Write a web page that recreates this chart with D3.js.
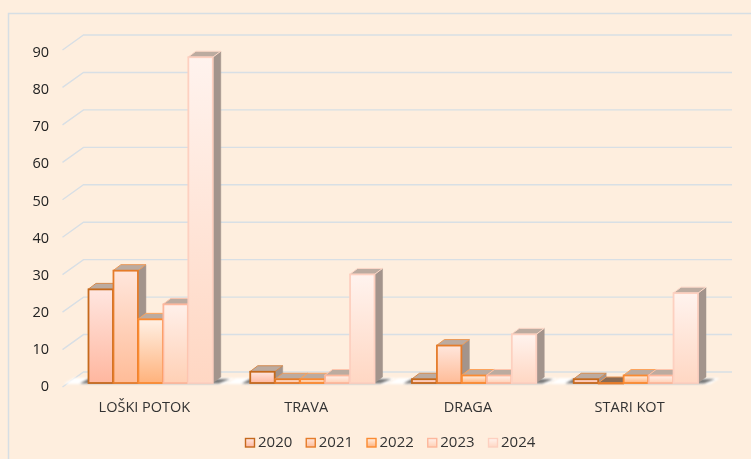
<!DOCTYPE html>
<html><head><meta charset="utf-8">
<script src="https://cdn.jsdelivr.net/npm/d3@7"></script>
<style>html,body{margin:0;padding:0;background:#feeede;overflow:hidden}
text{font-family:"Open Sans",sans-serif;fill:#333}</style></head>
<body><svg id="c" width="751" height="459"></svg>
<script>
const categories = ["LOŠKI POTOK","TRAVA","DRAGA","STARI KOT"];
const seriesNames = ["2020","2021","2022","2023","2024"];
const v2020 = [25,3,1,1];
const v2021 = [30,1,10,0];
const v2022 = [17,1,2,2];
const v2023 = [21,2,2,2];
const v2024 = [87,29,13,24];
const seriesValues = [v2020,v2021,v2022,v2023,v2024];
const strokeColors = ["#c5691f","#e57c2b","#fb8a30","#fdb79c","#fdd0c0"];
const fillTop = ["#ffe6e0","#ffe6dc","#fff0e4","#fff0ea","#fff3ee"];
const fillBottom = ["#ffb79f","#ffbc98","#ffb27c","#ffd0b5","#ffd7c3"];
const yTicks = [0,10,20,30,40,50,60,70,80,90];

const svg = d3.select("#c");
const defs = svg.append("defs");
seriesNames.forEach((s,i)=>{
  const g = defs.append("linearGradient").attr("id","g"+i).attr("x1",0).attr("x2",0).attr("y1",0).attr("y2",1);
  g.append("stop").attr("offset","0%").attr("stop-color",fillTop[i]);
  g.append("stop").attr("offset","100%").attr("stop-color",fillBottom[i]);
});
defs.append("filter").attr("id","soft").append("feGaussianBlur").attr("stdDeviation",0.4);
defs.append("filter").attr("id","soft2").append("feGaussianBlur").attr("stdDeviation",0.25);
const bf=defs.append("filter").attr("id","blur").attr("x","-10%").attr("y","-100%").attr("width","120%").attr("height","300%");
bf.append("feGaussianBlur").attr("stdDeviation",1.2);

// outer frame
svg.append("path").attr("d","M8.5,459V13.5H751").attr("fill","none").attr("stroke","#d6dee4").attr("stroke-width",1.5);

const root = svg.append("g").attr("filter","url(#soft)");
const yBack = d3.scaleLinear().domain([0,90]).range([372,35]);
const yBar  = d3.scaleLinear().domain([0,90]).range([383,46]);
const yFront= d3.scaleLinear().domain([0,90]).range([387,50]);
const yLabel= d3.scaleLinear().domain([0,90]).range([386,52]);
const xGroup = d3.scaleBand().domain(categories).range([88,698]).paddingInner(37/162).paddingOuter(0);
const xBar = d3.scaleBand().domain(seriesNames).range([0,xGroup.bandwidth()]);

// grid
const wallL=[62.5,83.5], wallR=732;
root.append("g").selectAll("path").data(yTicks).join("path")
  .attr("d",t=>`M${wallL[0]},${yFront(t)}L${wallL[1]},${yBack(t)}H${wallR}`)
  .attr("fill","none").attr("stroke","#d8dfe5").attr("stroke-width",1.4);

// floor shadows
root.append("g").selectAll("path").data(categories).join("path")
  .attr("d",c=>{const x=xGroup(c),w=xGroup.bandwidth();
    return `M${x-24},${yBar(0)+1}L${x-14},${yBar(0)-5}H${x+w+22}L${x+w+12},${yBar(0)+1}Z`;})
  .attr("fill","#fff").attr("filter","url(#blur)");
root.append("g").selectAll("path").data(categories).join("path")
  .attr("d",c=>{const x=xGroup(c),w=xGroup.bandwidth();
    return `M${x-8},${yBar(0)+0.5}L${x},${yBar(0)-4}H${x+w+17}L${x+w+6},${yBar(0)+0.5}Z`;})
  .attr("fill","#777").attr("filter","url(#blur)");

// bars
const dx=8, dy=6;
categories.forEach((c,ci)=>{
  seriesNames.forEach((s,si)=>{
    const val=seriesValues[si][ci], x=xGroup(c)+xBar(s), w=xBar.bandwidth(), y0=yBar(0), y=yBar(val);
    const g=root.append("g");
    g.append("path").attr("d",`M${x+w},${y}l${dx},${-dy}V${y0-dy}l${-dx},${dy}Z`)
      .attr("fill","#a3948c").attr("stroke","#a3948c").attr("stroke-width",0.5);
    g.append("path").attr("d",`M${x},${y}l${dx},${-dy}h${w}l${-dx},${dy}Z`)
      .attr("fill",val===0?"#8a6a52":"#bcaba0").attr("stroke",d3.interpolateRgb(strokeColors[si],"#feeede")(0.25)).attr("stroke-width",1);
    g.append("rect").attr("x",x+0.5).attr("y",y).attr("width",w-0.5).attr("height",Math.max(y0-y,0.5))
      .attr("fill",`url(#g${si})`).attr("stroke",strokeColors[si]).attr("stroke-width",1.8);
  });
});

// axes
const yAxis=d3.axisLeft(yLabel).tickValues(yTicks).tickSize(0).tickPadding(0);
const ag=svg.append("g").attr("transform","translate(49,0)").attr("filter","url(#soft2)").call(yAxis);
ag.select(".domain").remove();
ag.selectAll("text").style("font-size","14.5px").style("fill","#222");
const xAxis=d3.axisBottom(xGroup).tickSize(0).tickPadding(0);
const xg=svg.append("g").attr("transform","translate(-6,397)").attr("filter","url(#soft2)").call(xAxis);
xg.select(".domain").remove();
xg.selectAll("text").attr("dy","1.05em").style("font-size","14.5px").style("fill","#333");

// legend
const legendX=d3.scalePoint().domain(seriesNames).range([245,488]);
const lg=svg.append("g").attr("filter","url(#soft2)").selectAll("g").data(seriesNames).join("g").attr("transform",s=>`translate(${legendX(s)},438)`);
lg.append("rect").attr("x",0.5).attr("y",0.5).attr("width",9).attr("height",8.5)
  .attr("fill",(s,i)=>`url(#g${i})`).attr("stroke",(s,i)=>strokeColors[i]).attr("stroke-width",1.4);
lg.append("text").attr("x",13).attr("y",9).text(s=>s).style("font-size","15px");
</script></body></html>
